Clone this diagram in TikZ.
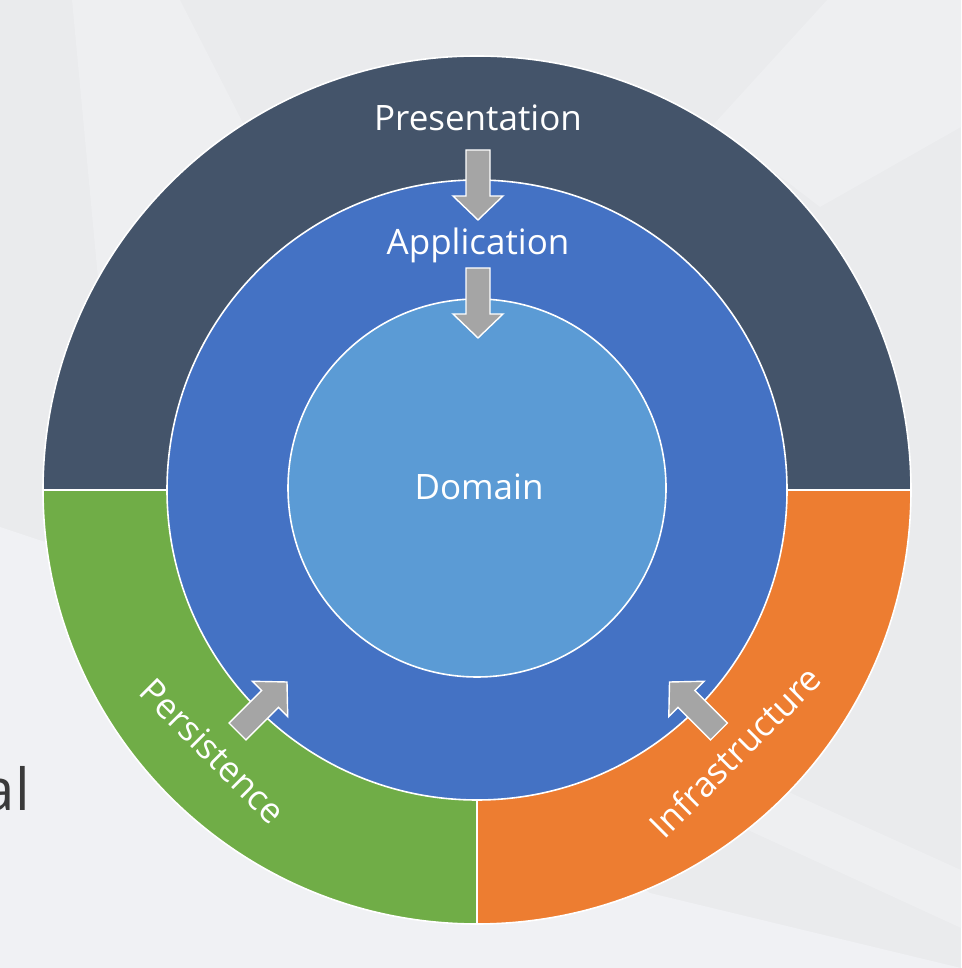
\documentclass[tikz,border=0pt]{standalone}
\usepackage{fontspec}
\usetikzlibrary{calc}
\setmainfont{Open Sans}
\definecolor{bgbase}{HTML}{EAEBED}
\definecolor{bglight}{HTML}{EEEFF1}
\definecolor{bglighter}{HTML}{F0F1F4}
\definecolor{slate}{HTML}{44546A}
\definecolor{midblue}{HTML}{4472C4}
\definecolor{lightblue}{HTML}{5B9BD5}
\definecolor{leafgreen}{HTML}{70AD47}
\definecolor{tangerine}{HTML}{ED7D31}
\definecolor{arrowgray}{HTML}{A5A5A5}
\definecolor{sidetext}{HTML}{3A3A3A}
\tikzset{
  ringborder/.style={draw=white, line width=1.6pt},
  layerlabel/.style={text=white, font=\fontsize{35}{40}\selectfont, inner sep=0pt},
  blockarr/.pic={
    \draw[fill=arrowgray, draw=white, line width=1.4pt, line join=miter]
      (-12,0) -- (12,0) -- (12,-46) -- (25,-46) -- (0,-70) -- (-25,-46) -- (-12,-46) -- cycle;
  }
}
\begin{document}
\begin{tikzpicture}[x=1pt,y=1pt]
% background
\fill[bgbase] (0,0) rectangle (961,968);
\useasboundingbox (0,0) rectangle (961,968);
\fill[bglight] (72,968) -- (180,968) -- (245,841) -- (150,560) -- (100,668) -- cycle;
\fill[bglight] (827,968) -- (961,968) -- (961,841) -- (820,761) -- (713,843) -- cycle;
\fill[bglighter] (0,0) -- (0,441) -- (60,421) -- (250,360) -- (650,75) -- (961,0) -- cycle;
\fill[bglight] (740,198) -- (961,98) -- (961,40) -- (700,160) -- cycle;

% side text fragment
\node[font=\fontsize{58}{60}\selectfont, text=sidetext, anchor=base east, inner sep=0pt] (frag) at (30,157) {al};

% centre
\coordinate (C) at (477,478);

% outer ring sectors
\fill[slate] (C) -- ++(0:434) arc[start angle=0, end angle=180, radius=434] -- cycle;
\fill[leafgreen] (C) -- ++(180:434) arc[start angle=180, end angle=270, radius=434] -- cycle;
\fill[tangerine] (C) -- ++(270:434) arc[start angle=270, end angle=360, radius=434] -- cycle;
\draw[ringborder] (C) circle[radius=434];
\draw[ringborder] ($(C)+(-434,0)$) -- ($(C)+(434,0)$);
\draw[ringborder] (C) -- ++(0,-434);

% middle circle
\node[circle, fill=midblue, ringborder, minimum size=620pt, inner sep=0pt] (app) at (C) {};
% inner circle
\node[circle, fill=lightblue, ringborder, minimum size=378pt, inner sep=0pt] (dom) at (477,480) {};

% labels
\node[layerlabel, anchor=base] (lpres) at (478,837) {Presentation};
\node[layerlabel, anchor=base] (lapp) at (478,713) {Application};
\node[layerlabel, anchor=base] (ldom) at (479,468) {Domain};
\node[layerlabel, rotate=-45] (lpers) at (213,217) {Persistence};
\node[layerlabel, rotate=45] (linfra) at (735,216.5) {Infrastructure};

% block arrows
\pic (a1) at (478,818) {blockarr};
\pic (a2) at (478,700) {blockarr};
\pic[rotate=135] (a3) at (237.5,236.5) {blockarr};
\pic[rotate=-135] (a4) at (719,236.5) {blockarr};
\end{tikzpicture}
\end{document}
